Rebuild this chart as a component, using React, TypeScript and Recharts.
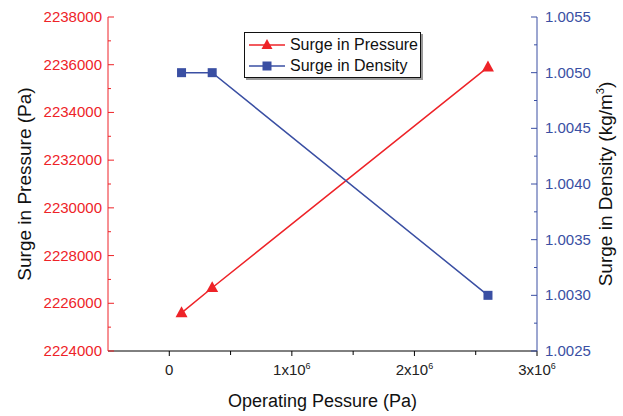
import React from 'react';
import { LineChart, Line, XAxis, YAxis, Legend, Label } from 'recharts';

// ── Data ───────────────────────────────────────────────────
const OPERATING_PRESSURE = [100000, 350000, 2600000];
const SURGE_PRESSURE = [2225600, 2226650, 2235900];
const SURGE_DENSITY = [1.005, 1.005, 1.003];

const X_TICKS = [0, 500000, 1000000, 1500000, 2000000, 2500000, 3000000];
const X_MAJOR = [0, 1000000, 2000000, 3000000];
const LEFT_TICKS = [
  2224000, 2225000, 2226000, 2227000, 2228000, 2229000, 2230000, 2231000,
  2232000, 2233000, 2234000, 2235000, 2236000, 2237000, 2238000,
];
const LEFT_MAJOR = [2224000, 2226000, 2228000, 2230000, 2232000, 2234000, 2236000, 2238000];
const RIGHT_TICKS = [
  1.0025, 1.00275, 1.003, 1.00325, 1.0035, 1.00375, 1.004, 1.00425,
  1.0045, 1.00475, 1.005, 1.00525, 1.0055,
];
const RIGHT_MAJOR = [1.0025, 1.003, 1.0035, 1.004, 1.0045, 1.005, 1.0055];

const data = OPERATING_PRESSURE.map((x, i) => ({
  x,
  pressure: SURGE_PRESSURE[i],
  density: SURGE_DENSITY[i],
}));

// ── Colors ─────────────────────────────────────────────────
const RED = '#ee2328';
const BLUE = '#3a4fa3';
const FONT = '"Liberation Sans", Arial, sans-serif';

const isMajor = (list: number[], v: number) => list.some((m) => Math.abs(m - v) < 1e-9);

// ── Markers ────────────────────────────────────────────────
function Triangle({ cx, cy, size = 12 }: any) {
  const h = size * 0.9;
  return (
    <path
      d={`M${cx},${cy - h * 0.6} L${cx + size / 2},${cy + h * 0.4} L${cx - size / 2},${cy + h * 0.4} Z`}
      fill={RED}
    />
  );
}

function Square({ cx, cy, size = 9 }: any) {
  return <rect x={cx - size / 2} y={cy - size / 2} width={size} height={size} fill={BLUE} />;
}

// ── Ticks ──────────────────────────────────────────────────
function LeftTick({ x, y, payload }: any) {
  const major = isMajor(LEFT_MAJOR, payload.value);
  return (
    <g>
      <line x1={x} y1={y} x2={x + (major ? 6 : 3)} y2={y} stroke={RED} />
      {major && (
        <text x={x - 6} y={y + 5} textAnchor="end" fill={RED} fontSize={15}>
          {payload.value}
        </text>
      )}
    </g>
  );
}

function RightTick({ x, y, payload }: any) {
  const major = isMajor(RIGHT_MAJOR, payload.value);
  return (
    <g>
      <line x1={x} y1={y} x2={x - (major ? 6 : 3)} y2={y} stroke={BLUE} />
      {major && (
        <text x={x + 8} y={y + 5} textAnchor="start" fill={BLUE} fontSize={15}>
          {payload.value.toFixed(4)}
        </text>
      )}
    </g>
  );
}

function BottomTick({ x, y, payload }: any) {
  const major = isMajor(X_MAJOR, payload.value);
  const v = payload.value;
  return (
    <g>
      <line x1={x} y1={y} x2={x} y2={y + (major ? 5 : 4)} stroke="#000" />
      {major && (
        <text x={x} y={y + 24} textAnchor="middle" fill="#222" fontSize={15}>
          {v === 0 ? '0' : (
            <>
              {`${v / 1000000}x10`}
              <tspan dy={-6} fontSize={9}>6</tspan>
            </>
          )}
        </text>
      )}
    </g>
  );
}

function TopTick({ x, y }: any) {
  return <line x1={x} y1={y} x2={x} y2={y + 6} stroke="#000" />;
}

// ── Legend ─────────────────────────────────────────────────
function LegendBox() {
  const row = (color: string, marker: React.ReactNode, text: string) => (
    <div style={{ display: 'flex', alignItems: 'center', height: 21 }}>
      <svg width={40} height={20} style={{ display: 'block' }}>
        <line x1={2} y1={10} x2={38} y2={10} stroke={color} strokeWidth={1.5} />
        {marker}
      </svg>
      <span style={{ fontSize: 16, color: '#111', marginLeft: 3, whiteSpace: 'nowrap' }}>{text}</span>
    </div>
  );
  return (
    <div
      style={{
        border: '1px solid #111',
        boxShadow: '2px 2px 0 #999',
        background: '#fff',
        padding: '1px 2px',
        width: 171,
        fontFamily: FONT,
      }}
    >
      {row(RED, <Triangle cx={20} cy={10} size={11} />, 'Surge in Pressure')}
      {row(BLUE, <Square cx={20} cy={10} size={9} />, 'Surge in Density')}
    </div>
  );
}

// ── Chart ──────────────────────────────────────────────────
export default function App() {
  return (
    <div style={{ position: 'absolute', left: 0, top: 0, width: 623, height: 416, background: '#fff', fontFamily: FONT }}>
      <LineChart width={623} height={416} data={data} margin={{ top: 17, right: 0, bottom: 0, left: 0 }}>
        <XAxis
          xAxisId="b"
          dataKey="x"
          type="number"
          domain={[-500000, 3000000]}
          ticks={X_TICKS}
          interval={0}
          height={65}
          axisLine={{ stroke: '#000' }}
          tickLine={false}
          tickSize={0}
          tickMargin={0}
          tick={<BottomTick />}
        >
          <Label
            content={({ viewBox }: any) => (
              <text
                x={viewBox.x + viewBox.width / 2}
                y={viewBox.y + 56}
                textAnchor="middle"
                fontSize={18}
                fill="#111"
              >
                Operating Pessure (Pa)
              </text>
            )}
          />
        </XAxis>
        <XAxis
          xAxisId="t"
          orientation="top"
          dataKey="x"
          type="number"
          domain={[-500000, 3000000]}
          ticks={X_TICKS}
          interval={0}
          height={0}
          axisLine={{ stroke: '#000' }}
          tickLine={false}
          tickSize={0}
          tickMargin={0}
          tick={<TopTick />}
        />
        <YAxis
          yAxisId="l"
          orientation="left"
          type="number"
          domain={[2224000, 2238000]}
          ticks={LEFT_TICKS}
          interval={0}
          width={108}
          axisLine={{ stroke: RED }}
          tickLine={false}
          tickSize={0}
          tickMargin={0}
          tick={<LeftTick />}
        >
          <Label
            content={({ viewBox }: any) => (
              <text
                transform={`translate(${viewBox.x + 31},${viewBox.y + viewBox.height / 2}) rotate(-90)`}
                textAnchor="middle"
                fontSize={19}
                fill="#111"
              >
                Surge in Pressure (Pa)
              </text>
            )}
          />
        </YAxis>
        <YAxis
          yAxisId="r"
          orientation="right"
          type="number"
          domain={[1.0025, 1.0055]}
          ticks={RIGHT_TICKS}
          interval={0}
          width={86}
          axisLine={{ stroke: BLUE }}
          tickLine={false}
          tickSize={0}
          tickMargin={0}
          tick={<RightTick />}
        >
          <Label
            content={({ viewBox }: any) => (
              <text
                transform={`translate(${viewBox.x + 75},${viewBox.y + viewBox.height / 2}) rotate(-90)`}
                textAnchor="middle"
                fontSize={19}
                fill="#111"
              >
                Surge in Density (kg/m
                <tspan dy={-8} fontSize={11}>3</tspan>
                <tspan dy={8}>)</tspan>
              </text>
            )}
          />
        </YAxis>
        <Legend
          layout="vertical"
          align="center"
          verticalAlign="middle"
          wrapperStyle={{ position: 'absolute', left: 244, top: 32, width: 'auto' }}
          content={() => <LegendBox />}
        />
        <Line
          xAxisId="b"
          yAxisId="l"
          dataKey="pressure"
          stroke={RED}
          strokeWidth={1.5}
          isAnimationActive={false}
          dot={(p: any) => <Triangle key={`t${p.index}`} cx={p.cx} cy={p.cy} size={12} />}
          activeDot={false}
        />
        <Line
          xAxisId="b"
          yAxisId="r"
          dataKey="density"
          stroke={BLUE}
          strokeWidth={1.5}
          isAnimationActive={false}
          dot={(p: any) => <Square key={`s${p.index}`} cx={p.cx} cy={p.cy} size={9} />}
          activeDot={false}
        />
      </LineChart>
    </div>
  );
}
